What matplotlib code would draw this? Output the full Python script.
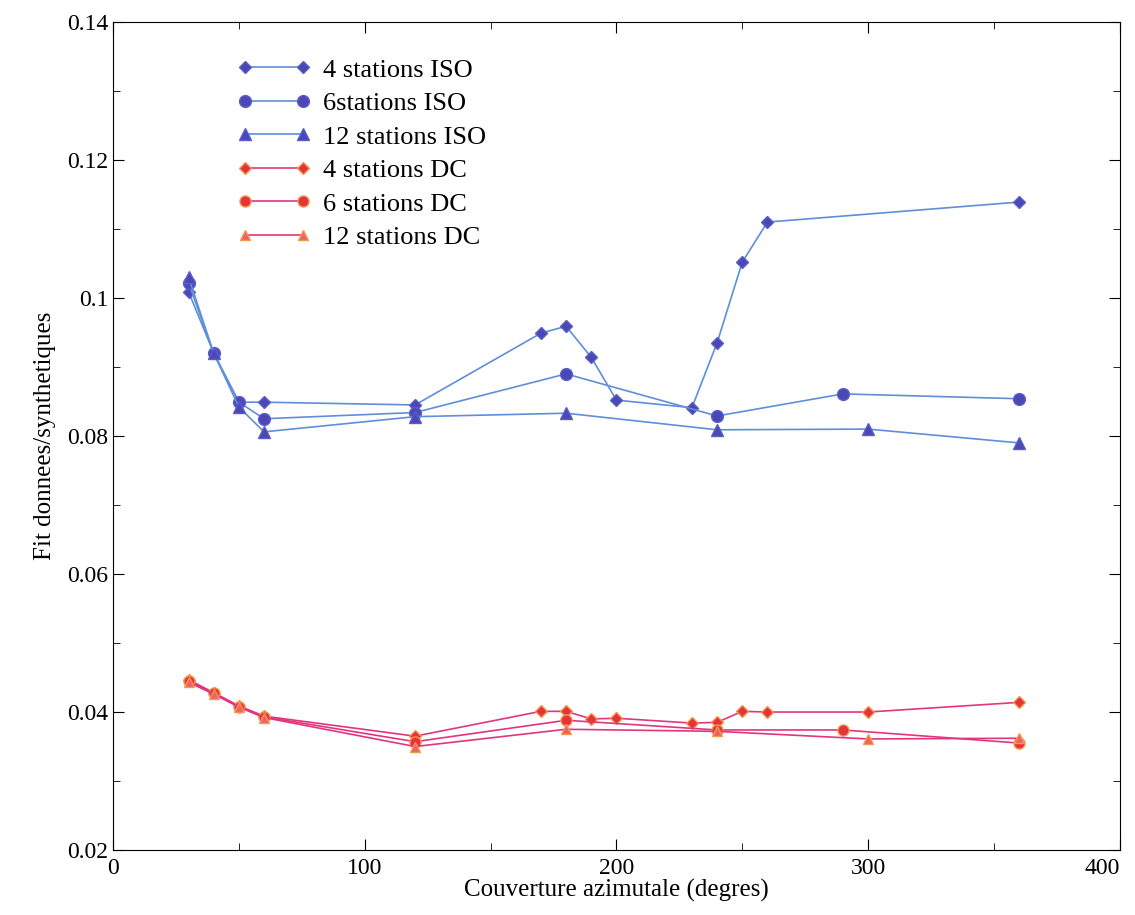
import numpy as np
import matplotlib
matplotlib.use('Agg')
import matplotlib.pyplot as plt
from matplotlib.ticker import MultipleLocator

plt.rcParams['font.family'] = ['Liberation Serif', 'DejaVu Serif']

# ISO series
x_iso4 = [30, 40, 50, 60, 120, 170, 180, 190, 200, 230, 240, 250, 260, 360]
y_iso4 = [0.1009, 0.0920, 0.0849, 0.0849, 0.0845, 0.0949, 0.0959, 0.0914, 0.0852, 0.0841, 0.0935, 0.1052, 0.1110, 0.1139]
x_iso6 = [30, 40, 50, 60, 120, 180, 240, 290, 360]
y_iso6 = [0.1022, 0.0920, 0.0849, 0.0825, 0.0834, 0.0890, 0.0829, 0.0861, 0.0854]
x_iso12 = [30, 40, 50, 60, 120, 180, 240, 300, 360]
y_iso12 = [0.1030, 0.0920, 0.0842, 0.0806, 0.0828, 0.0833, 0.0809, 0.0810, 0.0790]

# DC series
x_dc4 = [30, 40, 50, 60, 120, 170, 180, 190, 200, 230, 240, 250, 260, 300, 360]
y_dc4 = [0.0447, 0.0428, 0.0409, 0.0394, 0.0365, 0.0401, 0.0401, 0.0390, 0.0391, 0.0384, 0.0385, 0.0401, 0.0400, 0.0400, 0.0414]
x_dc6 = [30, 40, 50, 60, 120, 180, 240, 290, 360]
y_dc6 = [0.0445, 0.0427, 0.0408, 0.0393, 0.0357, 0.0388, 0.0374, 0.0374, 0.0355]
x_dc12 = [30, 40, 50, 60, 120, 180, 240, 300, 360]
y_dc12 = [0.0443, 0.0426, 0.0407, 0.0392, 0.0350, 0.0375, 0.0372, 0.0361, 0.0362]

labels = ['4 stations ISO', '6stations ISO', '12 stations ISO',
          '4 stations DC', '6 stations DC', '12 stations DC']
xtick_vals = [0, 100, 200, 300, 400]
ytick_vals = [0.02, 0.04, 0.06, 0.08, 0.1, 0.12, 0.14]
ytick_text = ['0.02', '0.04', '0.06', '0.08', '0.1', '0.12', '0.14']

blue_line = '#5f8fd8'
blue_face = '#4a48b4'
blue_edge = '#5a5ccc'
red_line = '#e2357e'
red_face = '#e5323f'
red_edge = '#f29a4a'

fig = plt.figure(figsize=(11.35, 9.15), dpi=100)
ax = fig.add_axes([0.0996, 0.071, 0.887, 0.905])

ax.plot(x_iso4, y_iso4, '-D', color=blue_line, mfc=blue_face, mec=blue_edge, ms=6.5, lw=1.2, label=labels[0])
ax.plot(x_iso6, y_iso6, '-o', color=blue_line, mfc=blue_face, mec=blue_edge, ms=8.5, lw=1.2, label=labels[1])
ax.plot(x_iso12, y_iso12, '-^', color=blue_line, mfc=blue_face, mec=blue_edge, ms=8, lw=1.2, label=labels[2])
ax.plot(x_dc4, y_dc4, '-D', color=red_line, mfc=red_face, mec=red_edge, ms=6, lw=1.2, label=labels[3])
ax.plot(x_dc6, y_dc6, '-o', color=red_line, mfc=red_face, mec=red_edge, ms=8, lw=1.2, label=labels[4])
ax.plot(x_dc12, y_dc12, '-^', color=red_line, mfc='#f0606a', mec=red_edge, ms=7.5, lw=1.2, label=labels[5])

ax.set_xlim(0, 400)
ax.set_ylim(0.02, 0.14)
ax.set_xticks(xtick_vals)
ax.set_xticklabels([str(v) for v in xtick_vals])
ax.xaxis.set_minor_locator(MultipleLocator(50))
ax.set_yticks(ytick_vals)
ax.set_yticklabels(ytick_text)
ax.yaxis.set_minor_locator(MultipleLocator(0.01))
ax.tick_params(which='both', direction='in', top=True, right=True, labelsize=17)
ax.tick_params(which='major', length=8)
ax.tick_params(which='minor', length=5)
ax.tick_params(axis='x', pad=6)

ax.set_xlabel('Couverture azimutale (degres)', fontsize=18, labelpad=0)
ax.set_ylabel('Fit donnees/synthetiques', fontsize=18, labelpad=8)

ax.legend(loc='upper left', bbox_to_anchor=(0.1, 0.985), frameon=False,
          fontsize=19, numpoints=2, handlelength=2.8, handletextpad=0.45,
          labelspacing=0.38)

# keep the last x label inside the figure
fig.canvas.draw()
ax.xaxis.get_major_ticks()[-1].label1.set_horizontalalignment('right')

fig.savefig('out.png', dpi=100)
